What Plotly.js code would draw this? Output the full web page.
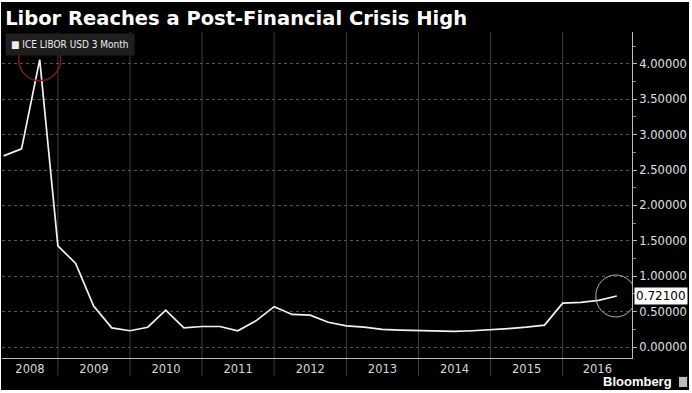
<!DOCTYPE html>
<html>
<head>
<meta charset="utf-8">
<script src="https://cdn.plot.ly/plotly-3.0.1.min.js"></script>
<style>
  html, body { margin: 0; padding: 0; background: #ffffff; }
  #chart { position: absolute; left: 1px; top: 2px; width: 688px; height: 388px; }
</style>
</head>
<body>
<div id="chart"></div>
<script>
// ---- data ----
const dates = [
  '2008-04-01','2008-07-01','2008-10-01',
  '2009-01-01','2009-04-01','2009-07-01','2009-10-01',
  '2010-01-01','2010-04-01','2010-07-01','2010-10-01',
  '2011-01-01','2011-04-01','2011-07-01','2011-10-01',
  '2012-01-01','2012-04-01','2012-07-01','2012-10-01',
  '2013-01-01','2013-04-01','2013-07-01','2013-10-01',
  '2014-01-01','2014-04-01','2014-07-01','2014-10-01',
  '2015-01-01','2015-04-01','2015-07-01','2015-10-01',
  '2016-01-01','2016-04-01','2016-07-01','2016-10-01'
];
const libor = [
  2.70, 2.80, 4.06,
  1.43, 1.18, 0.58, 0.27,
  0.23, 0.28, 0.52, 0.27,
  0.29, 0.29, 0.23, 0.37,
  0.57, 0.46, 0.45, 0.35,
  0.30, 0.28, 0.25, 0.24,
  0.23, 0.22, 0.22, 0.23,
  0.24, 0.26, 0.28, 0.31,
  0.62, 0.63, 0.66, 0.721
];
const yearLabels = ['2008','2009','2010','2011','2012','2013','2014','2015','2016'];
const seriesName = 'ICE LIBOR USD 3 Month';
const titleText = 'Libor Reaches a Post-Financial Crisis High';
const xRange = ['2008-03-24', '2016-12-17'];

// ---- helpers ----
const toStr = ms => new Date(ms).toISOString().slice(0, 19).replace('T', ' ');
const rs = Date.parse(xRange[0] + 'T00:00:00Z');
const re = Date.parse(xRange[1] + 'T00:00:00Z');
const labelVals = yearLabels.map(y => {
  const s = Math.max(Date.UTC(+y, 0, 1), rs);
  const e = Math.min(Date.UTC(+y + 1, 0, 1), re);
  return toStr((s + e) / 2);
});
const yearBounds = yearLabels.slice(1).map(y => y + '-01-01');

// peak & last point
let peakIdx = 0;
libor.forEach((v, i) => { if (v > libor[peakIdx]) peakIdx = i; });
const lastIdx = libor.length - 1;

const shapes = [];
yearBounds.forEach(d => shapes.push({
  type: 'line', xref: 'x', yref: 'paper', x0: d, x1: d, y0: -0.055, y1: 1,
  line: { color: '#3e3e3e', width: 1 }, layer: 'below'
}));
shapes.push({
  type: 'circle', xref: 'x', yref: 'y', xsizemode: 'pixel', ysizemode: 'pixel',
  xanchor: dates[peakIdx], yanchor: libor[peakIdx],
  x0: -21, x1: 21, y0: -21, y1: 21,
  line: { color: '#7a1c1c', width: 1.5 }
});
shapes.push({
  type: 'circle', xref: 'x', yref: 'y', xsizemode: 'pixel', ysizemode: 'pixel',
  xanchor: dates[lastIdx], yanchor: libor[lastIdx],
  x0: -21, x1: 19, y0: -21, y1: 21,
  line: { color: '#b0b0b0', width: 1 }
});
// small logo square
shapes.push({
  type: 'rect', xref: 'paper', yref: 'paper',
  x0: 1.0745, x1: 1.0875, y0: -0.089, y1: -0.058,
  fillcolor: '#bbbbbb', line: { width: 0 }
});

const trace = {
  x: dates, y: libor, type: 'scatter', mode: 'lines', name: seriesName,
  line: { color: '#f2f2f2', width: 1.7 }, hoverinfo: 'x+y'
};

const layout = {
  width: 688, height: 388,
  paper_bgcolor: '#000000', plot_bgcolor: '#000000',
  margin: { l: 1, r: 57, t: 30, b: 32 },
  showlegend: false,
  title: {
    text: '<b>' + titleText + '</b>',
    x: 0.006, xanchor: 'left', xref: 'container',
    y: 0.958, yanchor: 'middle', yref: 'container',
    font: { family: 'DejaVu Sans, Verdana, sans-serif', size: 19.5, color: '#ffffff' }
  },
  xaxis: {
    type: 'date', range: xRange, tickmode: 'array',
    tickvals: labelVals, ticktext: yearLabels,
    showgrid: false, zeroline: false, showline: true,
    linecolor: '#bbbbbb', linewidth: 1, ticks: '',
    tickfont: { family: 'DejaVu Sans, sans-serif', size: 11.5, color: '#d8d8d8' }
  },
  yaxis: {
    side: 'right', range: [-0.155, 4.45], dtick: 0.5, tick0: 0,
    tickformat: '.5f', showgrid: true, gridcolor: '#555555', griddash: 'dot',
    gridwidth: 1, zeroline: false, showline: true, linecolor: '#bbbbbb', linewidth: 1,
    ticks: 'outside', ticklen: 4, tickcolor: '#bbbbbb',
    minor: { dtick: 0.25, ticks: 'outside', ticklen: 3, tickcolor: '#888888', showgrid: false },
    tickfont: { family: 'DejaVu Sans, sans-serif', size: 11.5, color: '#e0e0e0' }
  },
  shapes: shapes,
  annotations: [
    {
      xref: 'paper', yref: 'paper', x: 0, y: 1, xanchor: 'left', yanchor: 'top',
      xshift: 3, yshift: -1, showarrow: false, align: 'left',
      text: '■ ' + seriesName, bgcolor: '#1e1e1e', borderpad: 5,
      font: { family: 'DejaVu Sans Condensed, DejaVu Sans, sans-serif', size: 10, color: '#eeeeee' }
    },
    {
      xref: 'paper', yref: 'y', x: 1, y: libor[lastIdx], xanchor: 'left', yanchor: 'middle',
      xshift: 2, showarrow: false, text: libor[lastIdx].toFixed(5),
      bgcolor: '#ffffff', borderpad: 1,
      font: { family: 'DejaVu Sans, sans-serif', size: 12, color: '#000000' }
    },
    {
      xref: 'paper', yref: 'paper', x: 1.0665, y: -0.0736, xanchor: 'right', yanchor: 'middle',
      showarrow: false, text: '<b>Bloomberg</b>',
      font: { family: 'Liberation Sans, Arial, sans-serif', size: 13, color: '#ffffff' }
    }
  ]
};

Plotly.newPlot('chart', [trace], layout, { displayModeBar: false, staticPlot: true });
</script>
</body>
</html>
